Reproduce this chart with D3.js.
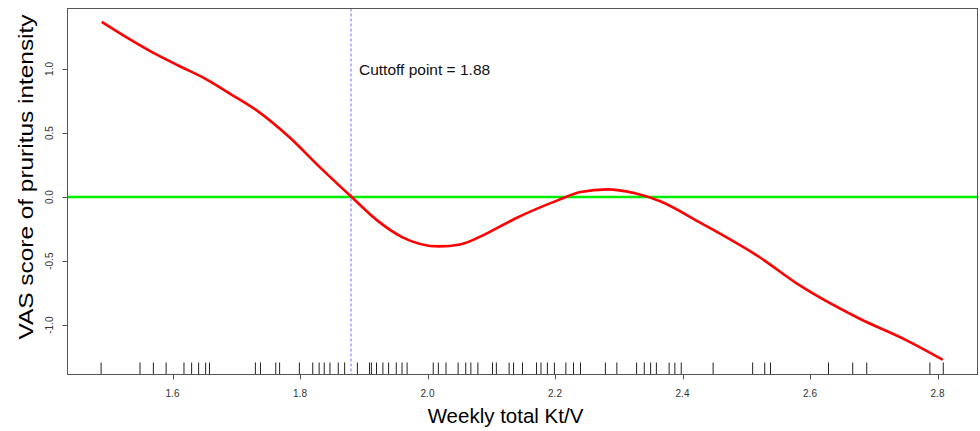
<!DOCTYPE html>
<html>
<head>
<meta charset="utf-8">
<script src="https://cdn.jsdelivr.net/npm/d3@7"></script>
<style>
  html, body { margin: 0; padding: 0; background: #fff; }
  svg { display: block; font-family: "Liberation Sans", Arial, sans-serif; }
  .box { fill: none; stroke: #555; stroke-width: 1; }
  .tick-line { stroke: #555; stroke-width: 1; }
  .tick-label { fill: #333; font-size: 10px; }
  .rug { stroke: #222; stroke-width: 1; }
</style>
</head>
<body>
<div id="chart"></div>
<script>
// ---- Data ----
// Fitted spline of VAS score against weekly Kt/V
var kvGrid = [1.489, 1.530, 1.570, 1.610, 1.651, 1.690, 1.732, 1.783, 1.831, 1.881,
              1.921, 1.960, 2.018, 2.051, 2.090, 2.137, 2.204, 2.240, 2.282, 2.324,
              2.364, 2.427, 2.521, 2.584, 2.678, 2.750, 2.808];
var vasFit = [1.367, 1.240, 1.125, 1.025, 0.925, 0.808, 0.677, 0.469, 0.234, 0.000,
              -0.182, -0.312, -0.385, -0.370, -0.291, -0.169, -0.026, 0.039, 0.060, 0.031,
              -0.031, -0.198, -0.470, -0.690, -0.950, -1.115, -1.270];

// Observed Kt/V values (rug)
var kvObserved = [1.488, 1.549, 1.570, 1.590, 1.618, 1.630, 1.641, 1.652, 1.658,
                  1.730, 1.738, 1.762, 1.768, 1.799, 1.820, 1.830, 1.838, 1.847, 1.860, 1.870,
                  1.890, 1.909, 1.912, 1.920, 1.930, 1.939, 1.951, 1.960, 1.968,
                  2.009, 2.017, 2.029, 2.048, 2.060, 2.068, 2.079, 2.102, 2.108, 2.128, 2.135, 2.149,
                  2.171, 2.178, 2.188, 2.199, 2.217, 2.229, 2.240, 2.279, 2.297,
                  2.328, 2.340, 2.350, 2.359, 2.379, 2.388, 2.398, 2.448,
                  2.510, 2.529, 2.538, 2.629, 2.667, 2.689, 2.788, 2.809];

var xTicks = [1.6, 1.8, 2.0, 2.2, 2.4, 2.6, 2.8];
var yTicks = [-1.0, -0.5, 0.0, 0.5, 1.0];
var cutoff = 1.88;

var xDomain = [1.4353, 2.8627];
var yDomain = [-1.385, 1.472];

(function () {
  var width = 980, height = 431;
  var plot = { left: 67.5, right: 977.5, top: 8.5, bottom: 374.5 };

  var svg = d3.select('#chart').append('svg')
    .attr('width', width)
    .attr('height', height);

  var x = d3.scaleLinear().domain(xDomain).range([plot.left, plot.right]);
  var y = d3.scaleLinear().domain(yDomain).range([plot.bottom, plot.top]);

  // Reference line at zero
  svg.append('line')
    .attr('x1', plot.left).attr('x2', plot.right)
    .attr('y1', y(0)).attr('y2', y(0))
    .attr('stroke', '#00ee00')
    .attr('stroke-width', 2.6);

  // Cutoff line
  svg.append('line')
    .attr('x1', x(cutoff)).attr('x2', x(cutoff))
    .attr('y1', plot.top).attr('y2', plot.bottom)
    .attr('stroke', '#7070ff')
    .attr('stroke-width', 1)
    .attr('stroke-dasharray', '3,2');

  svg.append('text')
    .attr('x', x(cutoff) + 8)
    .attr('y', y(1.0) + 6)
    .attr('font-size', '15.5px')
    .attr('fill', '#111')
    .text('Cuttoff point = ' + cutoff.toFixed(2));

  // Fitted curve
  var line = d3.line()
    .x(function (d) { return x(d[0]); })
    .y(function (d) { return y(d[1]); })
    .curve(d3.curveMonotoneX);

  svg.append('path')
    .datum(d3.zip(kvGrid, vasFit))
    .attr('d', line)
    .attr('fill', 'none')
    .attr('stroke', '#ff0000')
    .attr('stroke-width', 2.6);

  // Rug
  svg.append('g').selectAll('line')
    .data(kvObserved)
    .enter().append('line')
    .attr('class', 'rug')
    .attr('x1', function (d) { return x(d); })
    .attr('x2', function (d) { return x(d); })
    .attr('y1', plot.bottom)
    .attr('y2', plot.bottom - 12);

  // Box
  svg.append('rect')
    .attr('class', 'box')
    .attr('x', plot.left).attr('y', plot.top)
    .attr('width', plot.right - plot.left)
    .attr('height', plot.bottom - plot.top);

  // X axis ticks and labels
  var xg = svg.append('g');
  xg.selectAll('line').data(xTicks).enter().append('line')
    .attr('class', 'tick-line')
    .attr('x1', function (d) { return Math.round(x(d)) + 0.5; })
    .attr('x2', function (d) { return Math.round(x(d)) + 0.5; })
    .attr('y1', plot.bottom).attr('y2', plot.bottom + 5);
  xg.selectAll('text').data(xTicks).enter().append('text')
    .attr('class', 'tick-label')
    .attr('x', function (d) { return x(d); })
    .attr('y', 397)
    .attr('text-anchor', 'middle')
    .text(function (d) { return d.toFixed(1); });

  // Y axis ticks and labels (rotated, as R draws them)
  var yg = svg.append('g');
  yg.selectAll('line').data(yTicks).enter().append('line')
    .attr('class', 'tick-line')
    .attr('x1', plot.left - 5).attr('x2', plot.left)
    .attr('y1', function (d) { return Math.round(y(d)) + 0.5; })
    .attr('y2', function (d) { return Math.round(y(d)) + 0.5; });
  yg.selectAll('text').data(yTicks).enter().append('text')
    .attr('class', 'tick-label')
    .attr('text-anchor', 'middle')
    .attr('transform', function (d) { return 'translate(53,' + y(d) + ') rotate(-90)'; })
    .text(function (d) { return d.toFixed(1); });

  // Axis titles
  svg.append('text')
    .attr('x', 505.5)
    .attr('y', 423)
    .attr('text-anchor', 'middle')
    .attr('font-size', '20.5px')
    .attr('fill', '#000')
    .text('Weekly total Kt/V');

  svg.append('text')
    .attr('transform', 'translate(33,177) rotate(-90)')
    .attr('text-anchor', 'middle')
    .attr('font-size', '21px')
    .attr('fill', '#000')
    .attr('textLength', 325)
    .attr('lengthAdjust', 'spacingAndGlyphs')
    .text('VAS score of pruritus intensity');
})();
</script>
</body>
</html>
